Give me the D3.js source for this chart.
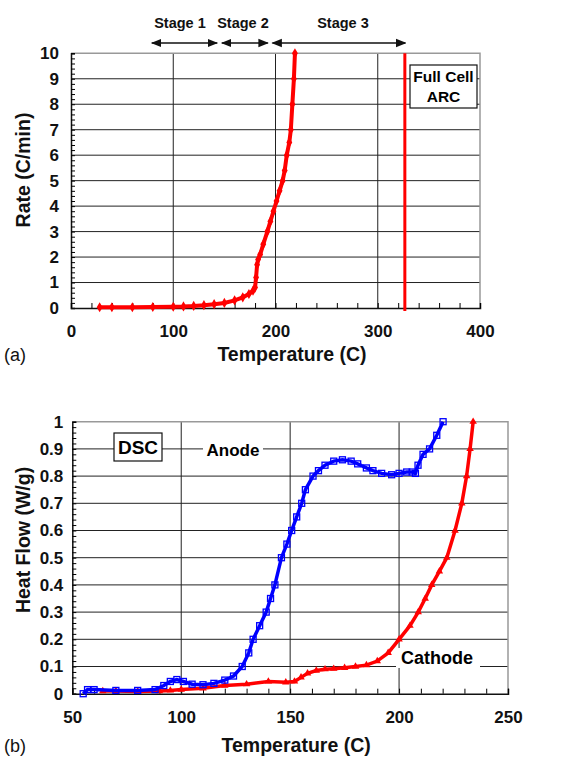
<!DOCTYPE html>
<html>
<head>
<meta charset="utf-8">
<script src="https://cdn.jsdelivr.net/npm/d3@7"></script>
<style>
  body { margin: 0; background: #fff; }
  svg text { font-family: "Liberation Sans", Arial, sans-serif; }
</style>
</head>
<body>
<svg id="chart" width="570" height="761"></svg>
<script>
// ---- data: (a) full cell ARC ----
const arcTemp = [28, 40, 60, 80, 100, 110, 120, 130, 140, 150, 160, 168, 174, 178, 180, 181, 182, 183, 185, 188, 192, 195, 198, 201, 204, 207, 209, 211, 213.5, 215, 216.5, 218, 219];
const arcRate = [0.03, 0.03, 0.03, 0.04, 0.05, 0.06, 0.08, 0.11, 0.15, 0.2, 0.3, 0.42, 0.55, 0.68, 0.8, 1.2, 1.7, 1.9, 2.1, 2.5, 3.0, 3.4, 3.8, 4.2, 4.6, 5.0, 5.4, 6.0, 6.5, 7.0, 8.0, 9.0, 10];
const arcVertTemp = 326.5;
const arcXTicks = [0, 100, 200, 300, 400];
const arcYTicks = [0, 1, 2, 3, 4, 5, 6, 7, 8, 9, 10];
const stageNames = ["Stage 1", "Stage 2", "Stage 3"];
const stageFrom = [79, 147.5, 197];
const stageTo = [143, 192.5, 327];

// ---- data: (b) DSC ----
const anodeTemp = [55, 57, 60, 70, 80, 88, 92, 95, 98, 101, 105, 110, 115, 120, 124, 128, 131, 133, 136, 139, 141, 143, 146, 148.5, 150.7, 153, 155.3, 157, 160.5, 163, 166, 170, 174, 178, 181, 185, 188, 192, 196.6, 200, 203.5, 206, 207.5, 208.7, 211, 214, 217.3, 220.2];
const anodeHeat = [0, 0.015, 0.015, 0.012, 0.012, 0.015, 0.03, 0.045, 0.052, 0.045, 0.035, 0.033, 0.038, 0.05, 0.065, 0.1, 0.15, 0.2, 0.25, 0.3, 0.35, 0.4, 0.5, 0.55, 0.6, 0.65, 0.7, 0.75, 0.8, 0.82, 0.84, 0.855, 0.86, 0.855, 0.845, 0.83, 0.82, 0.81, 0.805, 0.81, 0.815, 0.815, 0.81, 0.84, 0.88, 0.9, 0.95, 1.0];
const cathodeTemp = [64, 70, 80, 90, 95, 100, 110, 120, 130, 140, 148, 152, 155, 158, 162, 166, 170, 175, 180, 185, 190, 195, 200, 205, 208.8, 212, 215, 218.5, 221.9, 225.7, 228.8, 231, 232.6, 234];
const cathodeHeat = [0.01, 0.01, 0.008, 0.01, 0.012, 0.015, 0.02, 0.03, 0.035, 0.045, 0.042, 0.045, 0.06, 0.075, 0.085, 0.09, 0.092, 0.095, 0.1, 0.105, 0.12, 0.15, 0.2, 0.25, 0.3, 0.35, 0.4, 0.45, 0.5, 0.6, 0.7, 0.8, 0.9, 1.0];
const dscXTicks = [50, 100, 150, 200, 250];
const dscYTicks = [0, 0.1, 0.2, 0.3, 0.4, 0.5, 0.6, 0.7, 0.8, 0.9, 1];

const svg = d3.select("#chart");
const RED = "#f00", BLUE = "#00f";

function panel(opts) {
  const x = d3.scaleLinear().domain(opts.xDomain).range([opts.left, opts.right]);
  const y = d3.scaleLinear().domain(opts.yDomain).range([opts.bottom, opts.top]);
  const g = svg.append("g");

  // horizontal grid
  g.append("g").selectAll("line").data(opts.yTicks.slice(1, -1)).join("line")
    .attr("x1", opts.left).attr("x2", opts.right)
    .attr("y1", d => y(d)).attr("y2", d => y(d))
    .attr("stroke", "#222").attr("stroke-width", 1);
  // vertical grid
  g.append("g").selectAll("line").data(opts.xTicks.slice(1, -1)).join("line")
    .attr("x1", d => x(d)).attr("x2", d => x(d))
    .attr("y1", opts.top).attr("y2", opts.bottom)
    .attr("stroke", "#222").attr("stroke-width", 1);
  // frame (top/right grey)
  g.append("path")
    .attr("d", `M${opts.left},${opts.top}H${opts.right}V${opts.bottom}`)
    .attr("fill", "none").attr("stroke", "#999").attr("stroke-width", 1.5);

  // minor ticks
  const minorY = d3.range(opts.yDomain[0], opts.yDomain[1] + 1e-9, opts.yMinor);
  const minorX = d3.range(opts.xDomain[0], opts.xDomain[1] + 1e-9, opts.xMinor);
  g.append("g").attr("transform", `translate(${opts.left},0)`)
    .call(d3.axisLeft(y).tickValues(minorY).tickSize(-4).tickFormat(""))
    .call(s => s.select(".domain").attr("stroke", "#111").attr("stroke-width", 1.5));
  g.append("g").attr("transform", `translate(0,${opts.bottom})`)
    .call(d3.axisBottom(x).tickValues(minorX).tickSize(-5).tickFormat(""))
    .call(s => s.select(".domain").attr("stroke", "#111").attr("stroke-width", 1.5));

  // major labels
  g.append("g").attr("transform", `translate(${opts.left},0)`)
    .call(d3.axisLeft(y).tickValues(opts.yTicks).tickSize(0).tickPadding(opts.yPad).tickFormat(opts.yFmt))
    .call(s => s.select(".domain").remove())
    .selectAll("text").attr("font-size", 17).attr("font-weight", "bold").attr("fill", "#111");
  g.append("g").attr("transform", `translate(0,${opts.bottom})`)
    .call(d3.axisBottom(x).tickValues(opts.xTicks).tickSize(0).tickPadding(17))
    .call(s => s.select(".domain").remove())
    .selectAll("text").attr("font-size", 17).attr("font-weight", "bold").attr("fill", "#111");

  // axis titles
  g.append("text").attr("x", (opts.left + opts.right) / 2 + opts.xTitleShift).attr("y", opts.xTitleY)
    .attr("text-anchor", "middle").attr("font-size", 19.5).attr("font-weight", "bold").attr("fill", "#111")
    .text("Temperature (C)");
  g.append("text").attr("transform", `translate(30,${opts.yTitleCenter}) rotate(-90)`)
    .attr("text-anchor", "middle").attr("font-size", 19.5).attr("font-weight", "bold").attr("fill", "#111")
    .text(opts.yTitle);
  g.append("text").attr("x", 4).attr("y", opts.xTitleY).attr("font-size", 18).attr("fill", "#111")
    .text(opts.tag);

  return { x, y, g };
}

// ---------- (a) ----------
const a = panel({
  left: 71, right: 480, top: 53.3, bottom: 308,
  xDomain: [0, 400], yDomain: [0, 10], xTicks: arcXTicks, yTicks: arcYTicks,
  xMinor: 20, yMinor: 0.2, yPad: 12, yFmt: d3.format("d"),
  xTitleY: 361, xTitleShift: 16.5, yTitleCenter: 170, yTitle: "Rate (C/min)", tag: "(a)"
});

const arcPts = arcTemp.map((t, i) => [t, arcRate[i]]);
a.g.append("path").datum(arcPts)
  .attr("fill", "none").attr("stroke", RED).attr("stroke-width", 4)
  .attr("d", d3.line().x(d => a.x(d[0])).y(d => a.y(d[1])));
a.g.append("g").selectAll("path").data(arcPts).join("path")
  .attr("transform", d => `translate(${a.x(d[0])},${a.y(d[1])})`)
  .attr("d", d3.symbol(d3.symbolDiamond, 30)).attr("fill", RED);
a.g.append("line")
  .attr("x1", a.x(arcVertTemp)).attr("x2", a.x(arcVertTemp))
  .attr("y1", a.y(0) + 3).attr("y2", a.y(10))
  .attr("stroke", RED).attr("stroke-width", 3);

// Full Cell ARC box
a.g.append("rect").attr("x", 410).attr("y", 65).attr("width", 67).attr("height", 43)
  .attr("fill", "#fff").attr("stroke", "#111").attr("stroke-width", 1.2);
a.g.append("text").attr("x", 443.5).attr("y", 82).attr("text-anchor", "middle")
  .attr("font-size", 15.5).attr("font-weight", "bold").text("Full Cell");
a.g.append("text").attr("x", 443.5).attr("y", 102).attr("text-anchor", "middle")
  .attr("font-size", 15.5).attr("font-weight", "bold").text("ARC");

// stage arrows
const defs = svg.append("defs");
defs.append("marker").attr("id", "ah").attr("viewBox", "0 0 10 10").attr("refX", 9).attr("refY", 5)
  .attr("markerWidth", 7).attr("markerHeight", 7).attr("orient", "auto-start-reverse")
  .append("path").attr("d", "M0,1L10,5L0,9Z").attr("fill", "#111");
stageNames.forEach((name, i) => {
  a.g.append("line")
    .attr("x1", a.x(stageFrom[i])).attr("x2", a.x(stageTo[i]))
    .attr("y1", 43).attr("y2", 43)
    .attr("stroke", "#111").attr("stroke-width", 1.5)
    .attr("marker-start", "url(#ah)").attr("marker-end", "url(#ah)");
});
const stageLabelX = [180, 243, 343];
stageNames.forEach((name, i) => {
  a.g.append("text").attr("x", stageLabelX[i]).attr("y", 28).attr("text-anchor", "middle")
    .attr("font-size", 14.5).attr("font-weight", "bold").attr("fill", "#111").text(name);
});

// ---------- (b) ----------
const b = panel({
  left: 72.3, right: 508, top: 421.7, bottom: 693.7,
  xDomain: [50, 250], yDomain: [0, 1], xTicks: dscXTicks, yTicks: dscYTicks,
  xMinor: 10, yMinor: 0.02, yPad: 9, yFmt: d => d === 0 ? "0" : d === 1 ? "1" : d3.format(".1f")(d),
  xTitleY: 752, xTitleShift: 6, yTitleCenter: 540, yTitle: "Heat Flow (W/g)", tag: "(b)"
});

// labels with white background on gridlines
b.g.append("rect").attr("x", 114).attr("y", 433).attr("width", 48).attr("height", 28)
  .attr("fill", "#fff").attr("stroke", "#111").attr("stroke-width", 1.2);
b.g.append("text").attr("x", 138).attr("y", 454).attr("text-anchor", "middle")
  .attr("font-size", 19).attr("font-weight", "bold").text("DSC");
b.g.append("rect").attr("x", 203).attr("y", 440).attr("width", 60).attr("height", 18).attr("fill", "#fff");
b.g.append("text").attr("x", 233).attr("y", 456).attr("text-anchor", "middle")
  .attr("font-size", 17).attr("font-weight", "bold").text("Anode");
b.g.append("rect").attr("x", 396).attr("y", 648).attr("width", 84).attr("height", 20).attr("fill", "#fff");
b.g.append("text").attr("x", 437).attr("y", 664).attr("text-anchor", "middle")
  .attr("font-size", 18).attr("font-weight", "bold").text("Cathode");

const anodePts = anodeTemp.map((t, i) => [t, anodeHeat[i]]);
const cathodePts = cathodeTemp.map((t, i) => [t, cathodeHeat[i]]);
const lineB = d3.line().x(d => b.x(d[0])).y(d => b.y(d[1]));

b.g.append("path").datum(cathodePts)
  .attr("fill", "none").attr("stroke", RED).attr("stroke-width", 3.5).attr("d", lineB);
b.g.append("g").selectAll("path").data(cathodePts).join("path")
  .attr("transform", d => `translate(${b.x(d[0])},${b.y(d[1])})`)
  .attr("d", d3.symbol(d3.symbolTriangle, 24)).attr("fill", RED);

b.g.append("path").datum(anodePts)
  .attr("fill", "none").attr("stroke", BLUE).attr("stroke-width", 3.5).attr("d", lineB);
b.g.append("g").selectAll("rect").data(anodePts).join("rect")
  .attr("x", d => b.x(d[0]) - 3).attr("y", d => b.y(d[1]) - 3)
  .attr("width", 6).attr("height", 6)
  .attr("fill", "none").attr("stroke", BLUE).attr("stroke-width", 1.3);
</script>
</body>
</html>
